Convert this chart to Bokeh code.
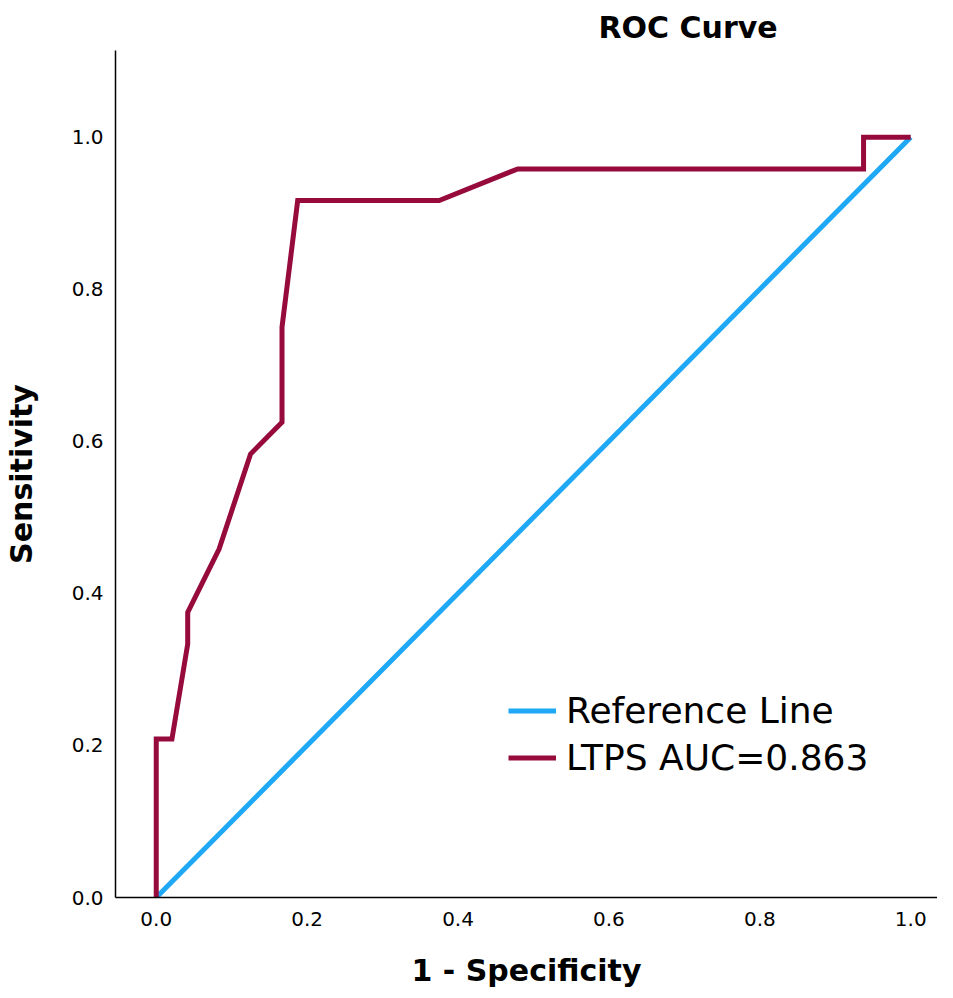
from bokeh.plotting import figure
from bokeh.models import Legend, LegendItem, Range1d, FixedTicker, Title
from bokeh.embed import file_html
from bokeh.resources import INLINE

# ROC data
fpr = [0.0, 0.0, 0.0208, 0.0417, 0.0417, 0.0833, 0.125, 0.1667, 0.1667, 0.1875, 0.375, 0.4792, 0.9375, 0.9375, 1.0]
tpr = [0.0, 0.2083, 0.2083, 0.3333, 0.375, 0.4583, 0.5833, 0.625, 0.75, 0.9167, 0.9167, 0.9583, 0.9583, 1.0, 1.0]
ref_x = [0.0, 1.0]
ref_y = [0.0, 1.0]
ticks = [0.0, 0.2, 0.4, 0.6, 0.8, 1.0]
tick_labels = {0.0: "0.0", 0.2: "0.2", 0.4: "0.4", 0.6: "0.6", 0.8: "0.8", 1.0: "1.0"}

RED = "#970a3c"
BLUE = "#1ea8f6"
FONT = "DejaVu Sans"

p = figure(width=937, height=990, output_backend="svg", toolbar_location=None,
           x_range=Range1d(-0.054, 1.0355), y_range=Range1d(0, 1.114),
           min_border_left=109, min_border_right=0, min_border_top=50, min_border_bottom=93)
p.outline_line_color = None
p.grid.visible = False
p.background_fill_color = "white"

p.title = Title(text="ROC Curve", align="left", offset=483, standoff=12,
                text_font=FONT, text_font_size="30px", text_font_style="bold",
                text_color="black")

for ax in (p.xaxis[0], p.yaxis[0]):
    ax.ticker = FixedTicker(ticks=ticks)
    ax.major_label_overrides = tick_labels
    ax.major_tick_line_color = None
    ax.minor_tick_line_color = None
    ax.major_tick_out = 0
    ax.major_tick_in = 0
    ax.minor_tick_out = 0
    ax.minor_tick_in = 0
    ax.axis_line_color = "black"
    ax.axis_line_width = 1.5
    ax.major_label_text_font = FONT
    ax.major_label_text_font_size = "20px"
    ax.major_label_text_color = "black"
    ax.axis_label_text_font = FONT
    ax.axis_label_text_font_size = "30px"
    ax.axis_label_text_font_style = "bold"
    ax.axis_label_text_color = "black"

p.xaxis.axis_label = "1 - Specificity"
p.yaxis.axis_label = "Sensitivity"
p.xaxis.major_label_standoff = 14
p.yaxis.major_label_standoff = 12
p.xaxis.axis_label_standoff = 24
p.yaxis.axis_label_standoff = 30

r_ref = p.line(ref_x, ref_y, line_color=BLUE, line_width=5)
r_roc = p.line(fpr, tpr, line_color=RED, line_width=5, line_join="miter")

legend = Legend(items=[LegendItem(label="Reference Line", renderers=[r_ref]),
                       LegendItem(label="LTPS AUC=0.863", renderers=[r_roc])],
                location=(393, 117), padding=0, margin=0, spacing=2,
                border_line_color=None, background_fill_alpha=0,
                label_text_font=FONT, label_text_font_size="36px",
                label_text_color="black", glyph_width=48, glyph_height=45,
                label_height=45, label_standoff=10)
p.add_layout(legend)

open("out.html", "w").write(file_html(p, INLINE))
